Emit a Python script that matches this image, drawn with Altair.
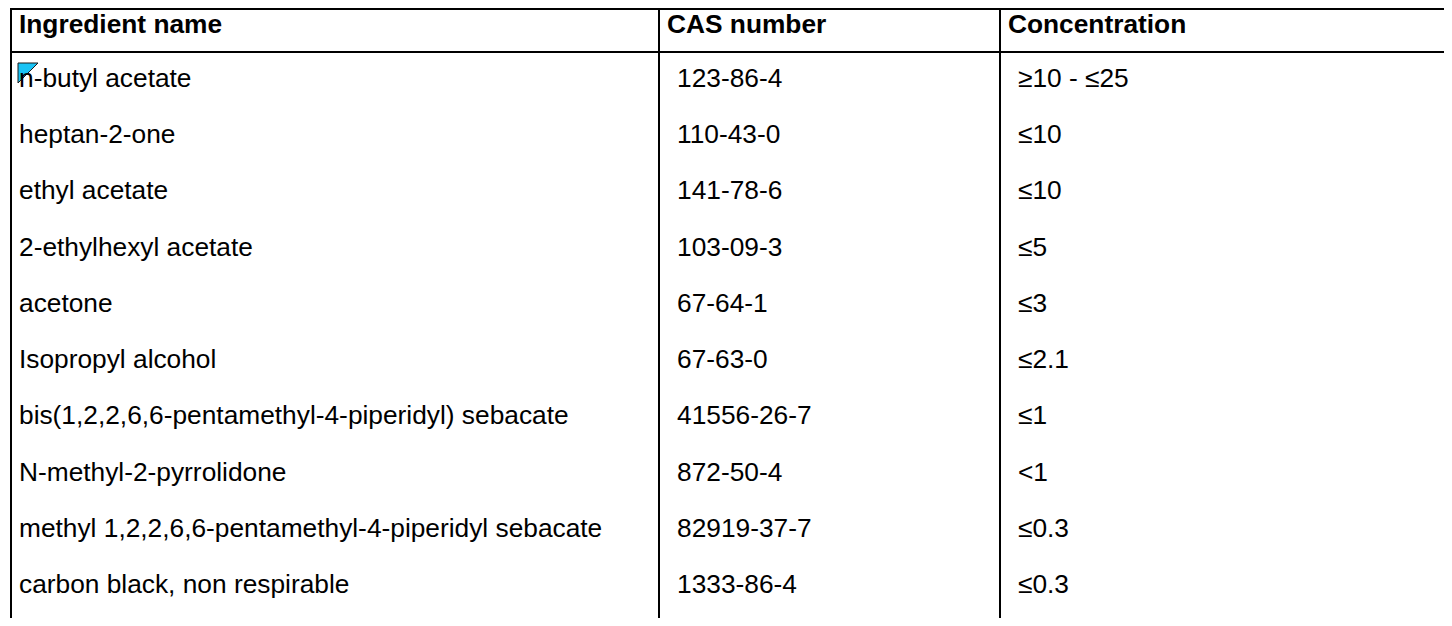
import altair as alt
import pandas as pd

# ---- table content ----
headers = ["Ingredient name", "CAS number", "Concentration"]
ingredients = [
    "n-butyl acetate",
    "heptan-2-one",
    "ethyl acetate",
    "2-ethylhexyl acetate",
    "acetone",
    "Isopropyl alcohol",
    "bis(1,2,2,6,6-pentamethyl-4-piperidyl) sebacate",
    "N-methyl-2-pyrrolidone",
    "methyl 1,2,2,6,6-pentamethyl-4-piperidyl sebacate",
    "carbon black, non respirable",
]
cas_numbers = [
    "123-86-4", "110-43-0", "141-78-6", "103-09-3", "67-64-1",
    "67-63-0", "41556-26-7", "872-50-4", "82919-37-7", "1333-86-4",
]
concentrations = [
    "≥10 - ≤25", "≤10", "≤10", "≤5", "≤3",
    "≤2.1", "≤1", "<1", "≤0.3", "≤0.3",
]
commented_rows = [1]  # row carrying the comment marker

# ---- build tables ----
header_df = pd.DataFrame({"col": [0, 1, 2], "row": [0, 0, 0], "text": headers})
rows = []
for i, (a, b, c) in enumerate(zip(ingredients, cas_numbers, concentrations), start=1):
    rows.append({"col": 0, "row": i, "text": a})
    rows.append({"col": 1, "row": i, "text": b})
    rows.append({"col": 2, "row": i, "text": c})
body_df = pd.DataFrame(rows)
edges_df = pd.DataFrame({"col": [0, 1, 2]})
marker_df = pd.DataFrame({"col": [0] * len(commented_rows), "row": commented_rows})

W, H = 1436, 610
xscale = alt.Scale(domain=[0, 1, 2, 3], range=[3, 651, 992, 1500])
yscale = alt.Scale(domain=[0, 1, 10], range=[25, 79, 585])
X = alt.X("col:Q", scale=xscale, axis=None)
Y = alt.Y("row:Q", scale=yscale, axis=None)

FONT = "Liberation Sans"
FS = 26.3

header_text = alt.Chart(header_df).mark_text(
    align="left", baseline="alphabetic", font=FONT, fontSize=FS,
    fontWeight="bold", color="#000000", dx=8
).encode(x=X, y=Y, text="text:N")

body_first = alt.Chart(body_df).transform_filter("datum.col == 0").mark_text(
    align="left", baseline="alphabetic", font=FONT, fontSize=FS,
    color="#000000", dx=8
).encode(x=X, y=Y, text="text:N")

body_rest = alt.Chart(body_df).transform_filter("datum.col > 0").mark_text(
    align="left", baseline="alphabetic", font=FONT, fontSize=FS,
    color="#000000", dx=18
).encode(x=X, y=Y, text="text:N")

vlines = alt.Chart(edges_df).mark_rule(color="#000000", strokeWidth=2).encode(
    x=X, y=alt.value(0), y2=alt.value(H)
)

top_line = alt.Chart(edges_df).transform_filter("datum.col == 0").mark_rule(
    color="#000000", strokeWidth=2
).encode(x=X, x2=alt.value(W), y=alt.value(1))

head_line = alt.Chart(edges_df).transform_filter("datum.col == 0").mark_rule(
    color="#000000", strokeWidth=2
).encode(x=X, x2=alt.value(W), y=alt.value(44))

marker = alt.Chart(marker_df).mark_point(
    shape="M -1 -1 L 1 -1 L -1 1 Z", filled=True, fill="#19C3F5",
    stroke="#1a1a1a", strokeWidth=1, size=400, opacity=1,
    xOffset=17, yOffset=-14
).encode(x=X, y=Y)

chart = alt.layer(
    vlines, top_line, head_line, header_text, marker, body_first, body_rest
).properties(
    width=W, height=H, padding=0,
    autosize=alt.AutoSizeParams(type="none"),
).configure_view(strokeWidth=0)

chart.save("out.html", embed_options={"renderer": "svg", "actions": False})
